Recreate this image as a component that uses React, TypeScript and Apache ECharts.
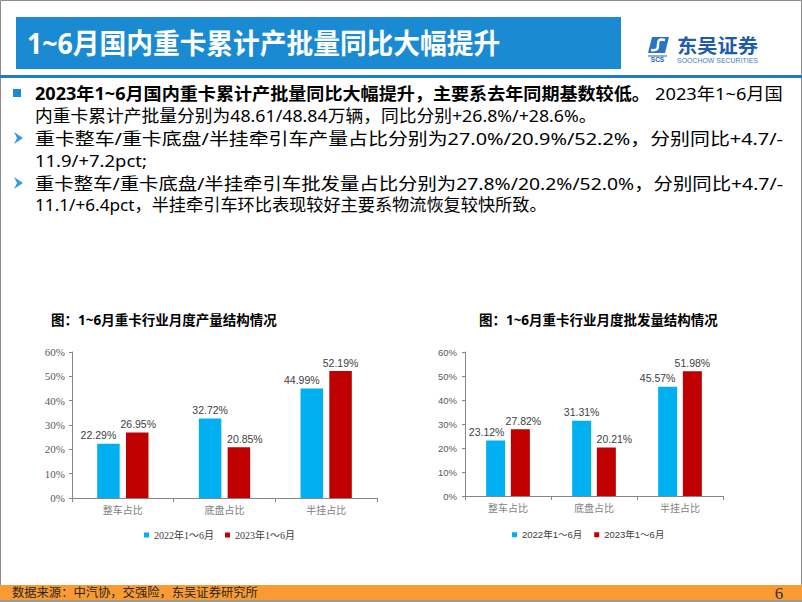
import React, { useEffect, useRef } from "react";
import * as echarts from "echarts";

// ---------- data ----------
const categories = ["整车占比", "底盘占比", "半挂占比"];
const seriesNames = ["2022年1～6月", "2023年1～6月"];
const production2022 = [22.29, 32.72, 44.99];
const production2023 = [26.95, 20.85, 52.19];
const wholesale2022 = [23.12, 31.31, 45.57];
const wholesale2023 = [27.82, 20.21, 51.98];
const yMin = 0;
const yMax = 60;
const yInterval = 10;

const slideTitle = "1~6月国内重卡累计产批量同比大幅提升";
const chartTitles = ["图：1~6月重卡行业月度产量结构情况", "图：1~6月重卡行业月度批发量结构情况"];
const sourceText = "数据来源：中汽协，交强险，东吴证券研究所";
const pageNumber = "6";
const logoName = "东吴证券";
const logoEnglish = "SOOCHOW SECURITIES";
const logoMark = "SCS";

const line1Bold = "2023年1~6月国内重卡累计产批量同比大幅提升，主要系去年同期基数较低。";
const line1Rest = "2023年1~6月国";
const bodyLines = [
  "内重卡累计产批量分别为48.61/48.84万辆，同比分别+26.8%/+28.6%。",
  "重卡整车/重卡底盘/半挂牵引车产量占比分别为27.0%/20.9%/52.2%，分别同比+4.7/-",
  "11.9/+7.2pct;",
  "重卡整车/重卡底盘/半挂牵引车批发量占比分别为27.8%/20.2%/52.0%，分别同比+4.7/-",
  "11.1/+6.4pct，半挂牵引车环比表现较好主要系物流恢复较快所致。",
];

// ---------- layout (not data) ----------
const BLUE = "#00B0F0";
const RED = "#C00000";
const HEADER_BLUE = "#1A8BD3";
const CJK = "Noto Sans CJK SC";
const UI_FONT = `Noto Sans, ${CJK}, sans-serif`;
const bodyY = [93, 115, 138, 160, 183, 205];
const bodyRight = [597, 783, 147, 783, 547];
const leftLabelShift = [[-10, 0, -10], [1, 6, 0]];
const rightLabelShift = [[-9, 0, -10], [3, 8, 0]];

const measureCtx = typeof document !== "undefined" ? document.createElement("canvas").getContext("2d") : null;
function measure(text: string, font: string): number {
  if (!measureCtx) return 1;
  measureCtx.font = font;
  return measureCtx.measureText(text).width || 1;
}

function fitText(text: string, x: number, right: number, y: number, size: number, weight: string, fill: string, family = UI_FONT) {
  const cssFamily = family
    .split(",")
    .map((f) => f.trim())
    .map((f) => (f.includes(" ") ? `"${f}"` : f))
    .join(", ");
  const w = measure(text, `${weight} ${size}px ${cssFamily}`);
  return {
    type: "text",
    x,
    y,
    scaleX: (right - x) / w,
    style: { text, fontSize: size, fontWeight: weight, fontFamily: family, fill, verticalAlign: "middle", align: "left" },
  };
}

function barSeries(name: string, values: number[], color: string, axis: number, shift: number[], barWidth: number, gap: string, labelFont: string) {
  return {
    type: "bar",
    name,
    xAxisIndex: axis,
    yAxisIndex: axis,
    barWidth,
    barGap: gap,
    itemStyle: { color },
    label: {
      show: true,
      position: "top",
      distance: 3,
      fontSize: 10.5,
      fontFamily: labelFont,
      color: "#404040",
      formatter: (p: any) => `${Number(p.value).toFixed(2)}%`,
    },
    data: values.map((v, i) => ({ value: v, label: { offset: [shift[i], 0] } })),
  };
}

function yAxis(grid: number, family: string, size: number, margin: number) {
  return {
    type: "value",
    gridIndex: grid,
    min: yMin,
    max: yMax,
    interval: yInterval,
    axisLine: { show: true, lineStyle: { color: "#868686" } },
    axisTick: { show: true, length: 3, lineStyle: { color: "#868686" } },
    splitLine: { show: false },
    axisLabel: { formatter: "{value}%", fontFamily: family, fontSize: size, color: "#595959", margin },
  };
}

function xAxis(grid: number) {
  return {
    type: "category",
    gridIndex: grid,
    data: categories,
    axisLine: { show: true, lineStyle: { color: "#868686" } },
    axisTick: { show: true, length: 4, lineStyle: { color: "#868686" } },
    axisLabel: { fontFamily: `Liberation Serif, ${CJK}`, fontSize: 10, color: "#7F7F7F", margin: 7 },
  };
}

export default function App() {
  const ref = useRef<HTMLDivElement>(null);
  useEffect(() => {
    if (!ref.current) return;
    const chart = echarts.init(ref.current, null, { renderer: "svg" });

    const graphics: any[] = [
      { type: "rect", shape: { x: 0.5, y: 0.5, width: 801, height: 600 }, style: { fill: "none", stroke: "#8C8C8C", lineWidth: 1 } },
      { type: "rect", shape: { x: 16, y: 17, width: 605, height: 52 }, style: { fill: HEADER_BLUE } },
      fitText(slideTitle, 27, 500, 43, 28, "bold", "#FFFFFF"),
      { type: "rect", shape: { x: 0, y: 75, width: 802, height: 3 }, style: { fill: "#1C7CC6" } },
      // logo mark
      { type: "polygon", shape: { points: [[652, 37], [669, 37], [665, 53], [648, 53]] }, style: { fill: "#2A74C4" } },
      {
        type: "bezierCurve",
        shape: { x1: 665, y1: 40, cpx1: 651, cpy1: 37, cpx2: 665, cpy2: 52, x2: 651, y2: 50 },
        style: { stroke: "#FFFFFF", lineWidth: 2.5, fill: "none" },
      },
      { type: "rect", shape: { x: 648, y: 55.5, width: 19, height: 1 }, style: { fill: "#1F5FAF" } },
      { type: "text", x: 657.5, y: 59.5, style: { text: logoMark, fontSize: 6.5, fontWeight: "bold", fontFamily: "Liberation Sans", fill: "#1F5FAF", align: "center", verticalAlign: "middle" } },
      fitText(logoName, 677, 758, 45, 19, "bold", "#1E5BA8", `${CJK}, sans-serif`),
      fitText(logoEnglish, 677, 758, 60, 7, "normal", "#3A7CC4", "Liberation Sans"),
      // bullets
      { type: "rect", shape: { x: 13, y: bodyY[0] - 4, width: 8, height: 8 }, style: { fill: HEADER_BLUE } },
      { type: "polygon", shape: { points: [[14, bodyY[2] - 6], [23, bodyY[2]], [14, bodyY[2] + 6], [17, bodyY[2]]] }, style: { fill: "#3A9AD9" } },
      { type: "polygon", shape: { points: [[14, bodyY[4] - 6], [23, bodyY[4]], [14, bodyY[4] + 6], [17, bodyY[4]]] }, style: { fill: "#3A9AD9" } },
      fitText(line1Bold, 35, 650, bodyY[0], 17, "bold", "#000000"),
      fitText(line1Rest, 655, 783, bodyY[0], 17, "normal", "#000000"),
      ...bodyLines.map((t, i) => fitText(t, 35, bodyRight[i], bodyY[i + 1], 17, "normal", "#000000")),
      // chart titles
      fitText(chartTitles[0], 51, 277, 320, 13.5, "bold", "#000000"),
      fitText(chartTitles[1], 479, 718, 320, 13.5, "bold", "#000000"),
      // footer
      { type: "rect", shape: { x: 0, y: 585, width: 802, height: 17 }, style: { fill: "#F99B32" } },
      { type: "rect", shape: { x: 0, y: 600, width: 802, height: 2 }, style: { fill: "#9A9A9A" } },
      fitText(sourceText, 12, 258, 593, 12, "normal", "#262626"),
      { type: "text", x: 779, y: 593, style: { text: pageNumber, fontSize: 17, fontFamily: "Liberation Serif", fill: "#333333", align: "center", verticalAlign: "middle" } },
    ];

    chart.setOption({
      animation: false,
      backgroundColor: "#FFFFFF",
      grid: [
        { left: 72, top: 352, width: 305, height: 146 },
        { left: 465, top: 352, width: 258, height: 144 },
      ],
      xAxis: [xAxis(0), xAxis(1)],
      yAxis: [yAxis(0, "Liberation Serif", 11, 7), yAxis(1, "Liberation Sans", 9.5, 8)],
      legend: [
        {
          data: seriesNames,
          left: 139,
          top: 525,
          icon: "rect",
          itemWidth: 5,
          itemHeight: 5,
          itemGap: 11,
          textStyle: { fontFamily: `Liberation Serif, ${CJK}`, fontSize: 10, color: "#404040" },
        },
        {
          data: seriesNames,
          left: 507,
          top: 525,
          icon: "rect",
          itemWidth: 5,
          itemHeight: 5,
          itemGap: 12,
          textStyle: { fontFamily: `Liberation Sans, ${CJK}`, fontSize: 9.5, color: "#404040" },
        },
      ],
      series: [
        barSeries(seriesNames[0], production2022, BLUE, 0, leftLabelShift[0], 22.5, "28%", "Liberation Sans Narrow, Liberation Sans"),
        barSeries(seriesNames[1], production2023, RED, 0, leftLabelShift[1], 22.5, "28%", "Liberation Sans Narrow, Liberation Sans"),
        barSeries(seriesNames[0], wholesale2022, BLUE, 1, rightLabelShift[0], 19, "30%", "Liberation Sans Narrow, Liberation Sans"),
        barSeries(seriesNames[1], wholesale2023, RED, 1, rightLabelShift[1], 19, "30%", "Liberation Sans Narrow, Liberation Sans"),
      ],
      graphic: graphics,
    });
    return () => chart.dispose();
  }, []);
  return <div ref={ref} style={{ position: "fixed", left: 0, top: 0, width: 802, height: 602 }} />;
}
